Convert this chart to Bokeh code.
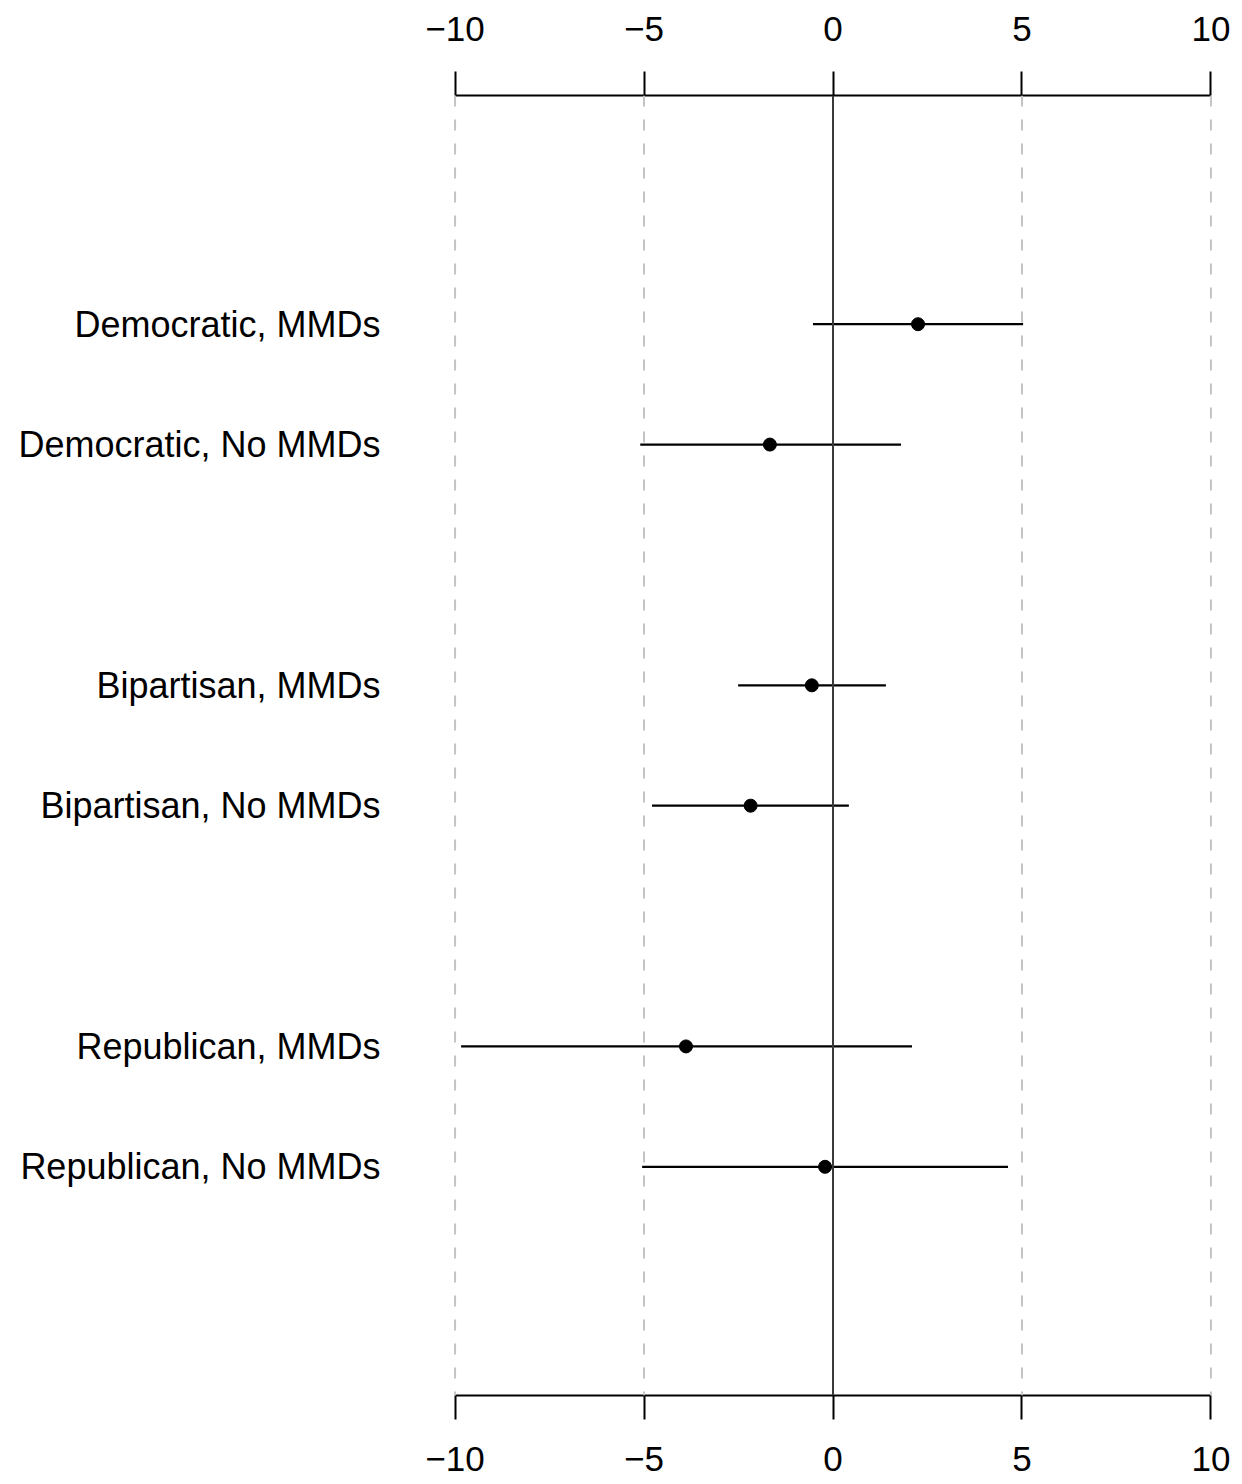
from bokeh.plotting import figure
from bokeh.models import LinearAxis, FixedTicker, Span, Range1d, ColumnDataSource
from bokeh.embed import file_html
from bokeh.resources import INLINE

labels = ["Democratic, MMDs", "Democratic, No MMDs", "Bipartisan, MMDs",
          "Bipartisan, No MMDs", "Republican, MMDs", "Republican, No MMDs"]
ypos = [9, 8, 6, 5, 3, 2]
est = [2.25, -1.67, -0.56, -2.18, -3.89, -0.21]
lo = [-0.53, -5.1, -2.51, -4.79, -9.84, -5.05]
hi = [5.03, 1.8, 1.4, 0.42, 2.09, 4.63]
xticks = [-10, -5, 0, 5, 10]
xtick_labels = ["\u221210", "\u22125", "0", "5", "10"]

src = ColumnDataSource(dict(y=ypos, est=est, lo=lo, hi=hi))

FONT = "Liberation Sans"

p = figure(width=1242, height=1484, output_backend="svg", toolbar_location=None,
           x_axis_location=None, y_axis_location=None,
           x_range=Range1d(-10.2, 10.2), y_range=Range1d(0.1, 10.9),
           min_border_left=447, min_border_right=24, min_border_top=95,
           min_border_bottom=89)
p.outline_line_color = None
p.background_fill_color = "white"
p.border_fill_color = "white"

# dashed reference lines
for v in [-10, -5, 5, 10]:
    p.add_layout(Span(location=v, dimension="height", line_color="#c4c4c4",
                      line_width=2, line_dash="11 13"))
p.add_layout(Span(location=0, dimension="height", line_color="#3a3a3a", line_width=2))

p.segment(x0="lo", x1="hi", y0="y", y1="y", source=src, line_color="black", line_width=2.2)
p.scatter(x="est", y="y", source=src, size=13, color="black")

overrides = {v: s for v, s in zip(xticks, xtick_labels)}

for loc, standoff in [("above", 31), ("below", 27)]:
    ax = LinearAxis(ticker=FixedTicker(ticks=xticks), bounds=(-10, 10))
    ax.major_label_overrides = overrides
    ax.major_tick_out = 24
    ax.major_tick_in = 0
    ax.minor_tick_line_color = None
    ax.axis_line_width = 2
    ax.major_tick_line_width = 2
    ax.axis_line_color = "black"
    ax.major_tick_line_color = "black"
    ax.major_label_text_font = FONT
    ax.major_label_text_font_size = "35px"
    ax.major_label_text_color = "black"
    ax.major_label_standoff = standoff
    p.add_layout(ax, loc)

yax = LinearAxis(ticker=FixedTicker(ticks=ypos))
yax.major_label_overrides = {y: l for y, l in zip(ypos, labels)}
yax.axis_line_color = None
yax.major_tick_line_color = None
yax.minor_tick_line_color = None
yax.major_tick_out = 0
yax.major_tick_in = 0
yax.major_label_standoff = 67
yax.major_label_text_font = FONT
yax.major_label_text_font_size = "36px"
yax.major_label_text_color = "black"
p.add_layout(yax, "left")

p.xgrid.visible = False
p.ygrid.visible = False

open("out.html", "w").write(file_html(p, INLINE))
